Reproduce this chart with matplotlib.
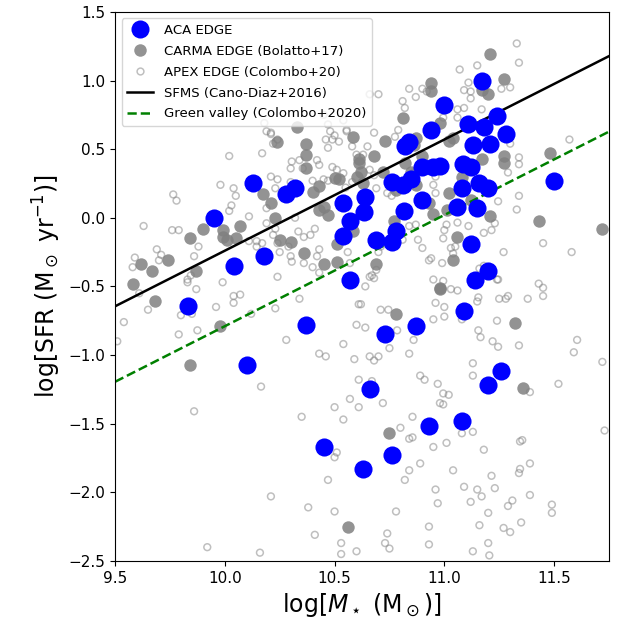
import numpy as np
import matplotlib
matplotlib.use("Agg")
import matplotlib.pyplot as plt
from matplotlib.lines import Line2D

# ACA EDGE (blue)
aca_x = [9.83, 9.95, 10.04, 10.10, 10.13, 10.18, 10.28, 10.32, 10.37, 10.45,
         10.54, 10.54, 10.57, 10.57, 10.63, 10.64, 10.635, 10.66, 10.69, 10.73,
         10.76, 10.76, 10.76, 10.78, 10.81, 10.815, 10.84, 10.82, 10.85, 10.87,
         10.90, 10.90, 10.93, 10.95, 10.94, 10.98, 11.00, 11.06, 11.08, 11.08,
         11.085, 11.09, 11.11, 11.12, 11.12, 11.13, 11.14, 11.15, 11.16, 11.17,
         11.18, 11.20, 11.20, 11.20, 11.21, 11.24, 11.26, 11.28, 11.50]
aca_y = [-0.64, 0.00, -0.35, -1.07, 0.25, -0.28, 0.17, 0.22, -0.78, -1.67,
         0.11, -0.13, -0.02, -0.45, -1.83, 0.15, 0.04, -1.25, -0.16, -0.85,
         -1.73, 0.26, -0.18, -0.10, 0.24, 0.05, 0.55, 0.52, 0.28, -0.79,
         0.37, 0.13, -1.52, 0.37, 0.64, 0.38, 0.82, 0.08, 0.22, -1.48,
         0.39, -0.68, 0.68, 0.37, -0.19, 0.53, -0.45, 0.07, 0.25, 1.00,
         0.66, 0.22, -0.39, -1.22, 0.54, 0.74, -1.12, 0.61, 0.27]

# CARMA EDGE (Bolatto+17) (grey filled)
carma_x = [9.58, 9.62, 9.67, 9.74, 9.68, 9.84, 9.90, 9.87, 9.99, 9.99,
           10.01, 10.05, 10.07, 10.175, 10.21, 10.23, 10.24, 10.25, 10.30, 10.36,
           10.33, 10.37, 10.37, 10.37, 10.40, 10.43, 10.45, 10.47, 10.43, 10.52,
           10.50, 10.51, 10.45, 10.51, 10.585, 10.61, 10.61, 10.62, 10.63, 10.60,
           10.585, 10.69, 10.73, 10.77, 10.78, 10.81, 10.86, 10.87, 10.85, 10.87,
           10.93, 10.95, 10.94, 10.94, 10.98, 11.02, 11.04, 11.02, 11.01, 11.06,
           11.04, 10.98, 11.17, 11.17, 11.20, 11.21, 11.27, 11.27, 11.27, 11.21,
           11.43, 11.48, 11.72, 9.98, 9.84, 10.56, 10.78, 11.32, 11.36, 10.75,
           10.98, 10.72, 10.68, 10.82, 11.08, 11.12, 10.90]
carma_y = [-0.48, -0.34, -0.39, -0.31, -0.61, -0.15, -0.08, -0.39, -0.09, -0.14,
           -0.16, -0.15, -0.06, 0.17, 0.11, 0.00, 0.55, -0.16, -0.18, -0.26,
           0.66, 0.54, 0.46, 0.36, 0.19, 0.23, 0.08, 0.02, 0.06, 0.28,
           0.29, -0.32, -0.34, -0.19, 0.59, 0.43, 0.40, 0.33, 0.25, 0.30,
           -0.10, -0.34, 0.56, -0.02, 0.20, 0.73, 0.53, 0.24, 0.33, 0.58,
           0.11, 0.03, 0.98, 0.92, 0.69, 0.56, 0.58, 0.18, 0.06, -0.14,
           -0.31, -0.51, 0.43, 0.93, 0.90, 1.19, 1.01, 0.45, 0.40, 0.01,
           -0.02, 0.47, -0.08, -0.79, -1.07, -2.25, -0.70, -0.77, -1.24, -1.57,
           -0.52, 0.33, 0.45, 0.40, 0.30, 0.13, 0.45]

# APEX EDGE (Colombo+20) (open circles)
apex_x = [9.61, 9.65, 9.54, 9.51, 9.80, 9.79, 9.875, 9.85, 9.87, 9.96,
          10.04, 10.07, 10.04, 10.12, 10.23, 10.34, 10.28, 10.43, 10.46, 10.165,
          9.86, 10.35, 10.47, 10.21, 10.38, 10.41, 9.92, 10.16, 9.83, 9.99,
          10.64, 10.67, 10.61, 10.71, 10.60, 10.64, 10.54, 10.59, 10.66, 10.70,
          10.68, 10.75, 10.84, 10.86, 10.785, 10.95, 11.00, 11.00, 10.95, 10.995,
          11.03, 11.06, 10.96, 11.15, 11.155, 11.245, 11.25, 11.28, 11.29, 11.38,
          11.43, 11.45, 11.45, 11.24, 11.08, 11.155, 11.165, 11.22, 11.245, 11.34,
          11.13, 11.13, 11.39, 11.52, 11.59, 11.605, 11.72, 11.73, 10.89, 10.91,
          10.97, 10.995, 11.02, 10.98, 10.995, 10.72, 10.61, 10.57, 10.50, 10.54,
          10.67, 10.61, 10.855, 10.80, 10.84, 10.855, 10.95, 11.01, 11.08, 11.13,
          11.18, 11.215, 11.23, 11.15, 11.17, 11.09, 11.04, 11.12, 11.20, 11.16,
          11.20, 11.13, 11.205, 11.27, 11.30, 11.35, 11.29, 11.31, 11.39, 11.34,
          11.345, 11.355, 11.345, 11.39, 11.49, 11.49, 10.96, 10.97, 10.93, 10.93,
          10.78, 10.74, 10.73, 10.75, 10.84, 10.82, 10.89, 10.50, 10.53, 10.60,
          10.53, 10.50, 10.51,
          10.02, 10.17, 10.22, 10.19, 10.21, 9.98, 10.04, 10.05, 10.03, 10.02,
          9.765, 9.78, 9.63, 9.76, 9.79, 9.69, 9.59, 9.58, 9.86, 9.88,
          9.83, 9.845, 10.11, 10.11, 10.145, 10.24, 10.19, 10.14, 10.22, 10.24,
          10.19, 10.21, 10.24, 10.23, 10.30, 10.305, 10.34, 10.355, 10.42, 10.43,
          10.46, 10.47, 10.49, 10.50, 10.52, 10.49, 10.51, 10.54, 10.45, 10.18,
          10.45, 10.54, 10.555, 10.29, 10.305, 10.36, 10.40, 10.43, 10.17, 10.145,
          10.23, 10.32, 10.36, 10.41, 9.71, 9.70,
          10.84, 10.87, 10.90, 10.92, 10.81, 10.82, 10.66, 10.70, 10.47, 10.48,
          10.555, 10.68, 10.21, 10.24, 10.58, 10.60, 10.65, 10.63, 10.79, 10.775,
          11.33, 11.34, 11.15, 11.07, 11.11, 11.09, 11.12, 11.12, 11.26, 11.30,
          11.06, 11.09, 11.17, 11.06, 10.995, 11.30, 11.57, 11.34, 11.34, 11.29,
          11.34, 11.245, 11.33, 11.23, 11.215, 11.18, 11.11, 11.06, 11.01, 11.00,
          10.995, 11.45, 11.58, 11.27, 11.16, 11.18, 11.24, 11.05, 11.03, 11.04,
          10.99, 10.335, 10.39, 10.43, 10.42, 10.56, 10.57, 10.69, 10.66, 10.68,
          10.71, 10.70, 10.745, 10.62, 10.81, 10.88, 10.84, 10.87, 10.90, 10.94,
          10.93, 10.96, 10.95, 10.69, 10.66, 10.68, 10.74, 10.76, 10.86, 10.87,
          10.92, 10.96, 10.30, 10.40, 10.47, 10.55, 10.58, 10.25, 10.30]
apex_y = [-0.55, -0.67, -0.76, -0.90, -0.71, -0.85, -0.82, -0.70, -0.52, -0.65,
          -0.57, -0.56, -0.62, -0.70, -0.66, -0.59, -0.89, -0.99, -1.01, -1.23,
          -1.41, -1.45, -1.91, -2.03, -2.11, -2.31, -2.40, -2.44, -0.47, -0.47,
          -0.50, -0.42, -0.63, -0.67, -0.78, -0.80, -0.92, -1.03, -1.01, -1.01,
          -1.04, -0.95, -0.99, -0.89, -0.82, -0.74, -0.72, -0.65, -0.45, -0.46,
          -0.52, -0.53, -0.62, -0.61, -0.58, -0.45, -0.59, -0.59, -0.57, -0.59,
          -0.48, -0.51, -0.57, -0.75, -0.74, -0.82, -0.87, -0.90, -0.94, -0.93,
          -1.06, -1.15, -1.27, -1.21, -0.98, -0.89, -1.05, -1.55, -1.15, -1.18,
          -1.21, -1.28, -1.29, -1.35, -1.36, -1.35, -1.38, -1.32, -1.38, -1.47,
          -1.19, -1.18, -1.45, -1.53, -1.61, -1.60, -1.67, -1.64, -1.57, -1.56,
          -1.69, -1.88, -1.97, -1.98, -2.03, -1.96, -1.84, -2.07, -2.15, -2.24,
          -2.37, -2.43, -2.46, -2.26, -2.29, -2.22, -2.10, -2.06, -2.02, -1.86,
          -1.83, -1.62, -1.63, -1.79, -2.09, -2.15, -1.98, -2.08, -2.25, -2.38,
          -2.14, -2.30, -2.37, -2.41, -1.84, -1.91, -1.79, -2.14, -2.37, -2.43,
          -2.45, -1.745, -1.71,
          0.45, 0.47, 0.54, 0.63, 0.61, 0.24, 0.215, 0.16, 0.09, 0.05,
          0.17, 0.125, -0.06, -0.09, -0.09, -0.23, -0.29, -0.36, -0.28, -0.21,
          -0.45, -0.42, 0.01, -0.17, -0.17, -0.43, 0.07, 0.23, -0.125, -0.185,
          -0.04, 0.30, 0.28, 0.215, 0.36, 0.41, 0.42, 0.36, 0.42, 0.385,
          0.57, 0.51, 0.57, 0.60, 0.555, 0.37, 0.35, 0.325, 0.28, 0.69,
          0.75, 0.71, 0.63, -0.21, -0.32, -0.33, -0.36, -0.40, -0.185, -0.21,
          -0.08, 0.00, -0.14, -0.08, -0.27, -0.31,
          0.94, 0.88, 0.94, 0.92, 0.85, 0.80, 0.90, 0.90, 0.68, 0.63,
          0.64, 0.62, 0.62, 0.57, 0.52, 0.46, 0.52, 0.46, 0.64, 0.59,
          1.27, 1.13, 1.11, 1.08, 0.985, 0.93, 0.92, 0.87, 0.94, 0.95,
          0.79, 0.80, 0.79, 0.73, 0.73, 0.54, 0.57, 0.44, 0.39, 0.33,
          0.16, 0.12, 0.06, -0.04, -0.09, -0.11, -0.06, -0.035, -0.05, -0.09,
          -0.15, -0.185, -0.25, -0.25, -0.37, -0.35, -0.45, -0.21, -0.22, -0.26,
          -0.33, -0.10, -0.125, -0.23, -0.28, -0.25, -0.33, -0.38, -0.43, -0.44,
          -0.21, -0.25, -0.67, -0.63, -0.16, -0.16, -0.06, -0.05, -0.22, -0.295,
          -0.31, 0.18, 0.24, 0.215, 0.35, 0.31, 0.18, 0.16, 0.33, 0.29,
          0.36, 0.30, 0.26, 0.27, 0.27, 0.22, 0.26, -0.25, -0.28]

# Relations
sfms_slope, sfms_intercept = 0.81, -8.34
gv_offset = -0.55
xline = np.array([9.5, 11.75])

fig = plt.figure(figsize=(6.22, 6.26), dpi=100)
ax = fig.add_axes([0.185, 0.104, 0.794, 0.877])

ax.scatter(apex_x, apex_y, s=24, facecolors='none', edgecolors='gray',
           linewidths=1.1, alpha=0.5, zorder=1)
ax.scatter(carma_x, carma_y, s=80, color='gray', alpha=0.85,
           linewidths=0, zorder=2)
ax.plot(xline, sfms_slope * xline + sfms_intercept, color='black', lw=1.8, zorder=2.5)
ax.plot(xline, sfms_slope * xline + sfms_intercept + gv_offset, color='green',
        lw=1.8, ls='--', zorder=2.5)
ax.scatter(aca_x, aca_y, s=170, color='blue', linewidths=0, zorder=3)

handles = [
    Line2D([], [], ls='none', marker='o', markersize=13, color='blue', markeredgewidth=0),
    Line2D([], [], ls='none', marker='o', markersize=9, color='gray', alpha=0.85, markeredgewidth=0),
    Line2D([], [], ls='none', marker='o', markersize=4.9, markerfacecolor='none',
           markeredgecolor='gray', alpha=0.5, markeredgewidth=1.1),
    Line2D([], [], color='black', lw=1.8),
    Line2D([], [], color='green', lw=1.8, ls='--'),
]
labels = ['ACA EDGE', 'CARMA EDGE (Bolatto+17)', 'APEX EDGE (Colombo+20)',
          'SFMS (Cano-Diaz+2016)', 'Green valley (Colombo+2020)']
ax.legend(handles, labels, loc='upper left', fontsize=9.5, handlelength=2.0,
          borderpad=0.4, labelspacing=0.6)

ax.set_xlim(9.5, 11.75)
ax.set_ylim(-2.5, 1.5)
ax.set_xticks([9.5, 10.0, 10.5, 11.0, 11.5])
ax.set_yticks([-2.5, -2.0, -1.5, -1.0, -0.5, 0.0, 0.5, 1.0, 1.5])
ax.tick_params(labelsize=11)
ax.set_xlabel(r'log[$M_\star$ (M$_\odot$)]', fontsize=17)
ax.set_ylabel(r'log[SFR (M$_\odot$ yr$^{-1}$)]', fontsize=17)

fig.savefig('out.png', dpi=100)
